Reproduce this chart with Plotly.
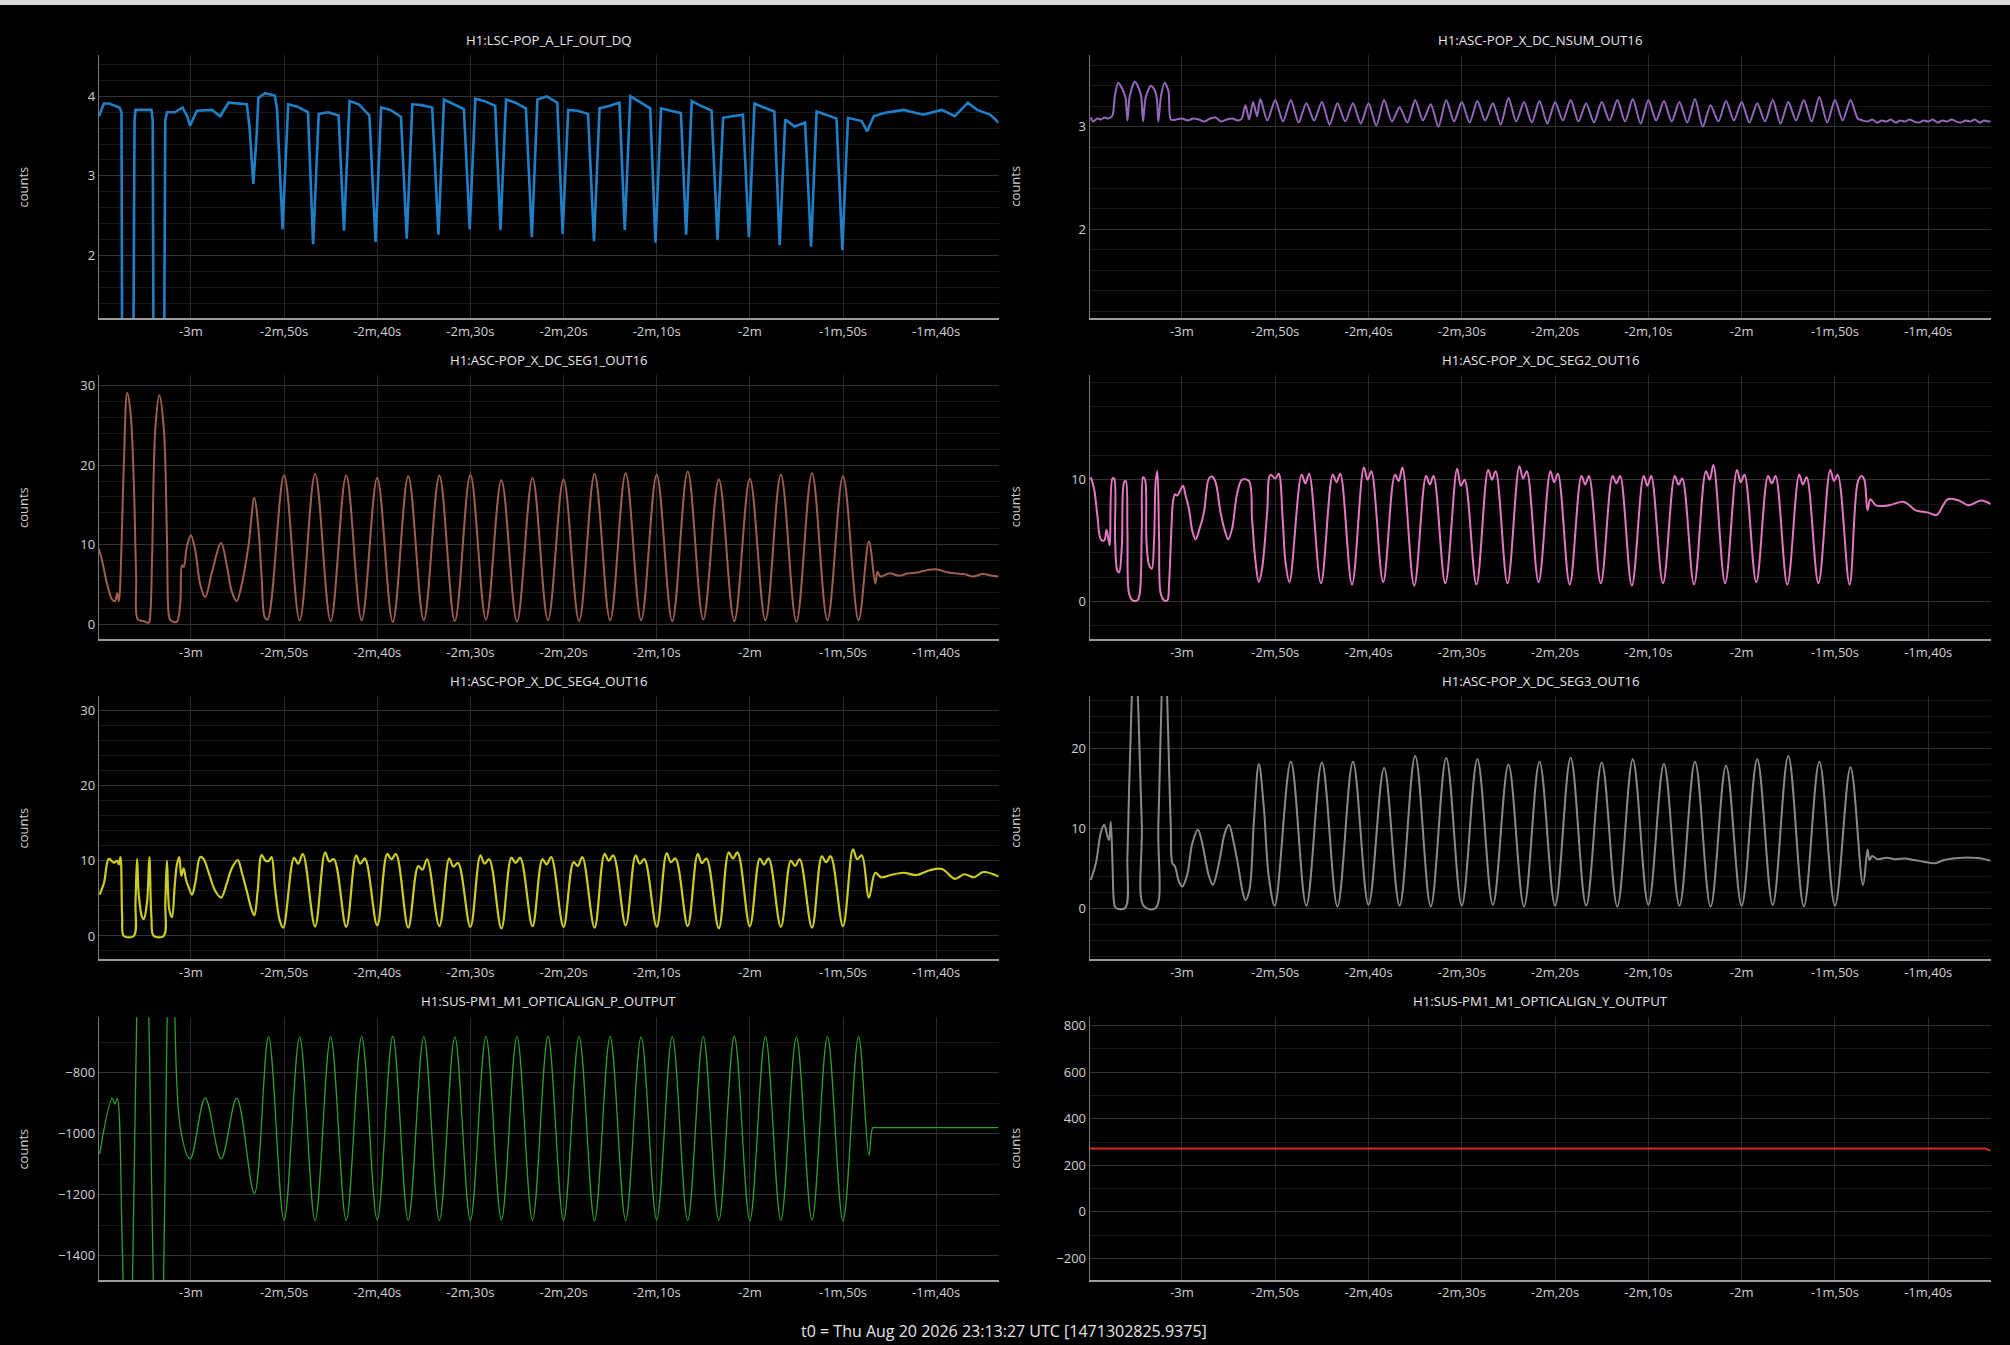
import plotly.graph_objects as go

# ---------------- shared time marks (seconds before t0) ----------------
t_pa = [-170.00, -166.67, -163.33, -160.00, -156.67, -153.33, -150.00, -146.67, -143.33, -140.00,
        -136.67, -133.33, -130.00, -126.67, -123.33, -120.00, -116.67, -113.33, -110.00]
t_pb = [-171.67, -168.33, -165.00, -161.67, -158.33, -155.00, -151.67, -148.33, -145.00, -141.67,
        -138.33, -135.00, -131.67, -128.33, -125.00, -121.67, -118.33, -115.00, -111.67, -108.33]

x_tickvals = [-180, -170, -160, -150, -140, -130, -120, -110, -100]
x_ticktext = ['-3m', '-2m,50s', '-2m,40s', '-2m,30s', '-2m,20s', '-2m,10s', '-2m', '-1m,50s', '-1m,40s']

titles = ['H1:LSC-POP_A_LF_OUT_DQ', 'H1:ASC-POP_X_DC_NSUM_OUT16',
          'H1:ASC-POP_X_DC_SEG1_OUT16', 'H1:ASC-POP_X_DC_SEG2_OUT16',
          'H1:ASC-POP_X_DC_SEG4_OUT16', 'H1:ASC-POP_X_DC_SEG3_OUT16',
          'H1:SUS-PM1_M1_OPTICALIGN_P_OUTPUT', 'H1:SUS-PM1_M1_OPTICALIGN_Y_OUTPUT']
footer = 't0 = Thu Aug 20 2026 23:13:27 UTC [1471302825.9375]'

# ---------------- H1:LSC-POP_A_LF_OUT_DQ ----------------
t_lsc = [-189.88, -189.34, -188.80, -188.00, -187.66, -187.45, -187.38, -186.20, -186.05, -185.95,
         -184.24, -184.10, -184.00, -182.90, -182.75, -182.57, -181.70, -180.90, -180.40, -180.10,
         -179.80, -179.36, -177.75, -176.86, -175.97, -174.00, -173.70, -173.30, -172.95, -172.76,
         -172.05, -171.00, -170.76,
         -170.16, -169.56, -168.56, -167.43,
         -166.88, -166.28, -165.28, -164.15,
         -163.57, -162.97, -161.97, -160.84,
         -160.18, -159.58, -158.58, -157.45,
         -156.83, -156.23, -155.23, -154.10,
         -153.43, -152.83, -151.83, -150.70,
         -150.07, -149.47, -148.47, -147.34,
         -146.77, -146.17, -145.17, -144.04,
         -143.40, -142.80, -141.80, -140.67,
         -140.10, -139.50, -138.50, -137.37,
         -136.73, -136.13, -135.13, -134.00,
         -133.43, -132.83, -131.83, -130.70,
         -130.13, -129.53, -128.53, -127.40,
         -126.84, -126.24, -125.24, -124.11,
         -123.47, -122.87, -121.87, -120.74,
         -120.10, -119.50, -118.50, -117.37,
         -116.80, -116.20, -115.20, -114.07,
         -113.43, -112.83, -111.83, -110.70,
         -110.07, -109.47, -108.00, -107.40, -106.70, -105.60, -103.50, -101.40, -99.40, -98.00,
         -96.60, -95.60, -94.20, -93.30]
v_lsc = [3.75, 3.91, 3.91, 3.88, 3.86, 3.80, 0.20, 0.20, 3.70, 3.83,
         3.83, 3.70, 0.20, 0.20, 3.70, 3.80, 3.80, 3.86, 3.75, 3.63,
         3.70, 3.82, 3.83, 3.75, 3.92, 3.90, 3.60, 2.90, 3.50, 3.98,
         4.04, 4.01, 3.85,
         2.33, 3.90, 3.87, 3.80,
         2.14, 3.78, 3.80, 3.76,
         2.31, 3.94, 3.90, 3.76,
         2.17, 3.86, 3.83, 3.74,
         2.21, 3.90, 3.89, 3.86,
         2.26, 3.96, 3.90, 3.84,
         2.33, 3.97, 3.94, 3.88,
         2.32, 3.96, 3.92, 3.85,
         2.23, 3.96, 4.00, 3.92,
         2.27, 3.83, 3.82, 3.78,
         2.18, 3.85, 3.88, 3.92,
         2.32, 4.00, 3.93, 3.85,
         2.16, 3.85, 3.82, 3.79,
         2.26, 3.94, 3.88, 3.82,
         2.19, 3.73, 3.75, 3.77,
         2.23, 3.91, 3.86, 3.81,
         2.13, 3.71, 3.62, 3.67,
         2.11, 3.81, 3.77, 3.72,
         2.07, 3.73, 3.69, 3.56, 3.75, 3.79, 3.83, 3.77, 3.83, 3.75,
         3.92, 3.83, 3.77, 3.67]

# ---------------- H1:ASC-POP_X_DC_NSUM_OUT16 ----------------
t_nsum_early = [-189.80, -189.50, -189.10, -188.70, -188.30, -187.90, -187.45, -187.20, -186.84, -186.40,
                -186.05, -185.85, -185.60, -185.06, -184.60, -184.35, -184.17, -183.90, -183.35, -182.95,
                -182.70, -182.53, -182.25, -181.85, -181.45, -181.20,
                -180.60, -180.00, -179.40, -178.80, -178.20, -177.60, -177.00, -176.40, -175.80, -175.20,
                -174.60, -174.00, -173.60,
                -173.19, -172.80, -172.37, -171.95, -171.60, -170.85]
v_nsum_early = [3.09, 3.05, 3.08, 3.07, 3.09, 3.08, 3.11, 3.30, 3.43, 3.37,
                3.28, 3.06, 3.30, 3.44, 3.37, 3.28, 3.05, 3.28, 3.40, 3.36,
                3.28, 3.05, 3.30, 3.43, 3.35, 3.07,
                3.07, 3.08, 3.06, 3.08, 3.07, 3.05, 3.08, 3.09, 3.05, 3.07,
                3.08, 3.06, 3.08,
                3.21, 3.07, 3.24, 3.10, 3.27, 3.06]
t_nsum_pk = [-170.00, -168.33, -166.67, -165.00, -163.33, -161.67, -160.00, -158.33, -156.67, -155.00,
             -153.33, -151.67, -150.00, -148.33, -146.67, -145.00, -143.33, -141.67, -140.00, -138.33,
             -136.67, -135.00, -133.33, -131.67, -130.00, -128.33, -126.67, -125.00, -123.33, -121.67,
             -120.00, -118.33, -116.67, -115.00, -113.33, -111.67, -110.00, -108.33]
v_nsum_pk = [3.26, 3.26, 3.23, 3.24, 3.23, 3.23, 3.23, 3.26, 3.19, 3.26,
             3.22, 3.26, 3.24, 3.25, 3.23, 3.28, 3.24, 3.25, 3.24, 3.26,
             3.23, 3.24, 3.26, 3.27, 3.26, 3.25, 3.24, 3.27, 3.21, 3.25,
             3.24, 3.23, 3.26, 3.24, 3.26, 3.29, 3.26, 3.26]
t_nsum_tr = [-169.17, -167.50, -165.83, -164.17, -162.50, -160.83, -159.17, -157.50, -155.83, -154.17,
             -152.50, -150.83, -149.17, -147.50, -145.83, -144.17, -142.50, -140.83, -139.17, -137.50,
             -135.83, -134.17, -132.50, -130.83, -129.17, -127.50, -125.83, -124.17, -122.50, -120.83,
             -119.17, -117.50, -115.83, -114.17, -112.50, -110.83, -109.17]
v_nsum_tr = [3.05, 3.04, 3.06, 3.02, 3.05, 3.03, 3.01, 3.05, 3.04, 3.06,
             3.00, 3.05, 3.04, 3.06, 3.02, 3.05, 3.04, 3.03, 3.06, 3.05,
             3.04, 3.06, 3.05, 3.03, 3.06, 3.05, 3.04, 3.00, 3.05, 3.06,
             3.04, 3.05, 3.03, 3.06, 3.05, 3.04, 3.06]
t_nsum_tail = [-107.55, -107.00, -106.50, -106.00, -105.50, -105.00, -104.50, -104.00, -103.50, -103.00,
               -102.50, -102.00, -101.50, -101.00, -100.50, -100.00, -99.50, -99.00, -98.50, -98.00,
               -97.50, -97.00, -96.50, -96.00, -95.50, -95.00, -94.50, -94.00, -93.50, -93.30]
v_nsum_tail = [3.08, 3.06, 3.05, 3.07, 3.04, 3.06, 3.05, 3.07, 3.04, 3.06,
               3.05, 3.07, 3.05, 3.04, 3.06, 3.05, 3.07, 3.04, 3.06, 3.05,
               3.07, 3.05, 3.04, 3.06, 3.05, 3.07, 3.04, 3.06, 3.05, 3.05]

# ---------------- H1:ASC-POP_X_DC_SEG1_OUT16 ----------------
t_seg1_early = [-189.88, -189.52, -188.98, -188.45, -188.16, -187.91, -187.74, -187.63, -187.49, -187.20,
                -186.84, -186.49, -186.13, -185.88, -185.70, -185.10, -184.53, -184.35, -184.17, -183.81,
                -183.39, -182.92, -182.57, -182.39, -182.21, -181.85, -181.50, -181.14, -180.96, -180.78,
                -180.43, -180.00, -179.54, -179.00, -178.47, -177.75, -176.76, -176.15, -175.61, -175.08,
                -174.55, -173.83, -173.19, -172.76, -172.41, -172.05, -171.76]
v_seg1_early = [9.5, 7.9, 5.0, 3.1, 2.9, 3.9, 2.9, 4.1, 8.3, 20.1,
                29.1, 26.7, 17.8, 6.0, 0.6, 0.4, 0.2, 1.5, 8.3, 24.8,
                28.8, 24.8, 10.7, 1.3, 0.5, 0.3, 0.3, 2.7, 7.4, 7.2,
                9.8, 11.2, 9.3, 5.0, 3.4, 6.5, 10.2, 7.4, 4.1, 2.9,
                5.0, 9.8, 15.9, 12.1, 6.0, 0.8, 0.6]
v_seg1_pk = [18.7, 18.9, 18.7, 18.4, 18.6, 18.7, 18.8, 18.1, 18.4, 18.2,
             18.9, 19.0, 18.8, 19.2, 18.2, 18.3, 18.8, 19.0, 18.6]
v_seg1_tr = [0.5, 0.4, 0.5, 0.3, 0.5, 0.4, 0.6, 0.3, 0.5, 0.4,
             0.5, 0.5, 0.4, 0.6, 0.4, 0.5, 0.3, 0.5, 0.5]
t_seg1_tail = [-107.22, -106.53, -106.30, -106.00, -105.00, -104.00, -103.00, -102.00, -101.00, -100.00,
               -99.00, -98.00, -97.00, -96.00, -95.00, -94.00, -93.30]
v_seg1_tail = [10.4, 5.1, 6.6, 6.0, 6.4, 6.1, 6.4, 6.5, 6.8, 6.9,
               6.6, 6.4, 6.3, 6.0, 6.3, 6.1, 6.0]

# ---------------- H1:ASC-POP_X_DC_SEG2_OUT16 ----------------
t_seg2_early = [-189.77, -189.41, -189.06, -188.70, -188.34, -188.09, -187.88, -187.74, -187.45, -187.27,
                -187.17, -186.92, -186.74, -186.45, -186.20, -186.02, -185.85, -185.67, -185.31, -184.78,
                -184.53, -184.31, -184.17, -183.96, -183.81, -183.53, -183.24, -182.99, -182.82, -182.64,
                -182.46, -182.28, -181.93, -181.57, -181.39, -181.11, -180.96, -180.75, -180.50, -180.14,
                -179.89, -179.61, -179.25, -178.89, -178.54, -178.18, -177.65, -177.11, -176.76, -176.40,
                -175.86, -175.40, -175.04, -174.62, -174.08, -173.55, -172.83, -172.48, -172.12, -171.76,
                -171.41, -170.87, -170.52, -169.98, -169.63, -169.20, -168.91, -168.48]
v_seg2_early = [10.2, 9.2, 7.0, 5.1, 5.0, 5.9, 5.1, 4.6, 10.1, 10.1,
                5.1, 2.5, 2.4, 4.5, 9.8, 9.9, 5.8, 0.65, 0.1, 0.1,
                0.65, 5.8, 10.2, 10.0, 5.1, 3.0, 2.7, 5.1, 9.8, 10.7,
                5.4, 0.65, 0.1, 0.1, 1.4, 6.4, 8.2, 8.8, 8.7, 9.2,
                9.5, 8.7, 7.6, 5.8, 5.1, 5.8, 7.3, 10.1, 10.25, 9.8,
                7.3, 5.8, 5.1, 6.0, 8.9, 10.0, 9.9, 6.7, 3.3, 1.6,
                2.7, 7.3, 10.4, 10.1, 10.5, 6.7, 3.3, 1.6]
t_seg2_h1 = [-167.17, -163.83, -160.50, -157.17, -153.83, -150.50, -147.17, -143.83, -140.50, -137.17,
             -133.83, -130.50, -127.17, -123.83, -120.50, -117.17, -113.83, -110.50]
v_seg2_h1 = [10.4, 10.4, 11.0, 10.4, 10.3, 10.9, 10.8, 11.1, 10.7, 10.3,
             10.3, 10.3, 10.3, 10.7, 10.8, 10.3, 10.4, 10.8]
t_seg2_mid = [-166.77, -163.43, -160.10, -156.77, -153.43, -150.10, -146.77, -143.43, -140.10, -136.77,
              -133.43, -130.10, -126.77, -123.43, -120.10, -116.77, -113.43, -110.10]
v_seg2_mid = [9.7, 9.8, 10.0, 9.9, 9.6, 9.5, 10.0, 10.1, 9.8, 9.6,
              9.7, 9.5, 9.6, 10.0, 9.8, 9.7, 9.6, 9.9]
t_seg2_h2 = [-166.37, -163.03, -159.70, -156.37, -153.03, -149.70, -146.37, -143.03, -139.70, -136.37,
             -133.03, -129.70, -126.37, -123.03, -119.70, -116.37, -113.03, -109.70]
v_seg2_h2 = [10.5, 10.5, 10.7, 11.0, 10.3, 10.0, 10.7, 10.7, 10.5, 10.3,
             10.3, 10.3, 10.1, 11.2, 10.4, 10.3, 10.2, 10.4]
t_seg2_tr = [-165.10, -161.77, -158.43, -155.10, -151.77, -148.43, -145.10, -141.77, -138.43, -135.10,
             -131.77, -128.43, -125.10, -121.77, -118.43, -115.10, -111.77, -108.43]
v_seg2_tr = [1.5, 1.4, 1.6, 1.3, 1.5, 1.4, 1.5, 1.6, 1.4, 1.5,
             1.3, 1.5, 1.4, 1.5, 1.6, 1.4, 1.5, 1.4]
t_seg2_tail = [-107.55, -107.15, -106.85, -106.50, -106.20, -105.60, -104.20, -102.70, -102.00, -101.40,
               -100.00, -99.10, -98.40, -97.90, -96.70, -95.70, -94.30, -93.30]
v_seg2_tail = [9.8, 10.3, 10.0, 7.5, 8.4, 7.9, 7.9, 8.2, 7.9, 7.5,
               7.3, 7.1, 7.9, 8.4, 8.3, 7.9, 8.3, 8.0]

# ---------------- H1:ASC-POP_X_DC_SEG4_OUT16 ----------------
t_seg4_early = [-189.80, -189.34, -188.81, -188.27, -187.91, -187.74, -187.56, -187.38, -187.20, -186.13,
                -185.95, -185.78, -185.60, -185.24, -185.06, -184.71, -184.46, -184.24, -183.99, -182.92,
                -182.75, -182.57, -182.32, -182.03, -181.75, -181.50, -181.25, -181.03, -180.78, -180.53,
                -180.25, -179.89, -179.54, -179.00, -178.65, -178.11, -177.40, -176.76, -176.15, -175.61,
                -174.97, -174.55, -174.01, -173.48, -173.19, -172.83, -172.41, -171.98, -171.62, -171.34,
                -170.98, -170.45, -170.09]
v_seg4_early = [5.5, 7.0, 10.25, 9.75, 10.0, 9.5, 10.5, 2.5, 0.0, 0.0,
                4.5, 10.25, 5.5, 2.5, 2.25, 4.5, 10.5, 2.5, 0.0, 0.0,
                4.5, 10.0, 3.5, 2.5, 6.5, 9.5, 10.5, 8.0, 9.0, 7.5,
                6.5, 5.5, 7.0, 10.5, 10.25, 8.5, 6.0, 5.1, 7.0, 9.0,
                10.1, 8.5, 6.0, 3.5, 2.75, 6.0, 10.75, 10.0, 10.0, 10.5,
                6.5, 2.0, 1.1]
t_seg4_h1 = [-168.93, -165.60, -162.27, -158.93, -155.60, -152.27, -148.93, -145.60, -142.27, -138.93,
             -135.60, -132.27, -128.93, -125.60, -122.27, -118.93, -115.60, -112.27, -108.93]
v_seg4_h1 = [10.4, 11.1, 10.7, 10.9, 9.3, 10.3, 10.7, 10.4, 10.2, 9.8,
             10.9, 10.7, 11.0, 10.9, 11.1, 10.3, 10.0, 10.6, 11.5]
t_seg4_mid = [-168.48, -165.15, -161.82, -158.48, -155.15, -151.82, -148.48, -145.15, -141.82, -138.48,
              -135.15, -131.82, -128.48, -125.15, -121.82, -118.48, -115.15, -111.82, -108.48]
v_seg4_mid = [9.6, 9.9, 9.6, 10.2, 8.8, 9.2, 9.6, 9.7, 9.5, 9.3,
              10.0, 9.6, 9.8, 9.7, 10.3, 9.5, 9.3, 9.8, 10.2]
t_seg4_h2 = [-167.98, -164.65, -161.32, -157.98, -154.65, -151.32, -147.98, -144.65, -141.32, -137.98,
             -134.65, -131.32, -127.98, -124.65, -121.32, -117.98, -114.65, -111.32, -107.98]
v_seg4_h2 = [10.9, 10.2, 10.3, 10.9, 10.2, 9.7, 10.2, 10.4, 10.5, 10.5,
             10.7, 10.2, 10.3, 10.3, 11.1, 10.3, 10.2, 10.6, 10.7]
v_seg4_tr = [1.25, 1.2, 1.4, 1.1, 1.3, 1.2, 1.0, 1.3, 1.2, 1.1,
             1.4, 1.2, 1.3, 1.0, 1.3, 1.2, 1.1, 1.3]
t_seg4_tail = [-107.22, -106.53, -105.90, -104.88, -103.50, -102.13, -100.76, -99.38, -98.00, -96.98,
               -95.95, -94.92, -93.30]
v_seg4_tail = [5.1, 8.4, 7.8, 8.1, 8.4, 8.1, 8.7, 8.9, 7.6, 8.2,
               7.8, 8.5, 7.9]

# ---------------- H1:ASC-POP_X_DC_SEG3_OUT16 ----------------
t_seg3_early = [-189.77, -189.23, -188.70, -188.34, -187.99, -187.81, -187.63, -187.45, -187.27, -187.09,
                -186.10, -185.85, -185.67, -185.06, -184.31, -184.06, -182.82, -182.53, -181.89, -181.21,
                -181.03, -180.75, -180.32, -179.96, -179.43, -178.89, -178.29, -177.83, -177.11, -176.68,
                -176.04, -175.40, -174.97, -174.44, -173.90, -173.55, -173.19, -172.76, -172.30, -171.76,
                -171.23, -170.70, -170.05]
v_seg3_early = [3.5, 5.6, 9.4, 10.4, 9.0, 8.5, 10.8, 5.6, 0.6, 0.0,
                0.0, 6.5, 14.8, 33.0, 10.6, 0.2, 0.0, 10.6, 33.5, 10.6,
                5.6, 5.2, 3.3, 2.7, 4.2, 8.1, 9.8, 8.1, 4.0, 2.9,
                5.6, 9.4, 10.4, 8.1, 4.8, 2.3, 1.0, 2.3, 10.6, 18.0,
                12.7, 4.0, 0.3]
v_seg3_pk = [18.3, 18.2, 18.3, 17.5, 19.0, 18.75, 18.6, 17.9, 18.3, 18.8,
             18.2, 18.6, 18.0, 18.3, 17.8, 18.6, 19.0, 18.3, 17.6]
v_seg3_tr = [0.3, 0.2, 0.4, 0.3, 0.2, 0.3, 0.4, 0.2, 0.3, 0.3,
             0.2, 0.4, 0.3, 0.2, 0.3, 0.4, 0.2, 0.3]
t_seg3_tail = [-106.99, -106.50, -106.30, -106.00, -105.40, -104.50, -103.50, -102.50, -101.50, -100.50,
               -99.30, -98.30, -97.30, -96.30, -95.30, -94.30, -93.30]
v_seg3_tail = [2.9, 7.3, 6.0, 6.5, 6.1, 6.3, 6.1, 6.2, 6.0, 5.8,
               5.6, 6.0, 6.2, 6.3, 6.3, 6.2, 5.9]

# ---------------- H1:SUS-PM1_M1_OPTICALIGN_P_OUTPUT ----------------
t_pout_early = [-189.80, -188.45, -188.16, -187.91, -187.38, -186.77, -185.17, -183.46, -182.03, -181.14,
                -180.07, -178.47, -176.76, -175.08, -173.19]
v_pout_early = [-1066, -883, -903, -885, -1350, -2100, 100, -2100, 100, -979,
                -1082, -882, -1082, -883, -1196]
v_pout_pk = [-681, -682, -681, -681, -680, -681, -682, -681, -681, -680,
             -681, -681, -682, -681, -681, -680, -681, -682, -681, -681]
v_pout_tr = [-1284, -1285, -1284, -1283, -1284, -1285, -1284, -1283, -1284, -1284,
             -1285, -1284, -1283, -1284, -1284, -1285, -1284, -1283, -1286]
t_pout_tail = [-107.22, -106.80, -106.50, -93.30]
v_pout_tail = [-1071, -980, -980, -980]

# ---------------- H1:SUS-PM1_M1_OPTICALIGN_Y_OUTPUT ----------------
t_yout = [-189.90, -93.90, -93.30]
v_yout = [272, 272, 263]


def merge(*pairs):
    pts = []
    for ts, vs in pairs:
        assert len(ts) == len(vs), (len(ts), len(vs))
        pts.extend(zip(ts, vs))
    pts.sort(key=lambda p: p[0])
    return [p[0] for p in pts], [p[1] for p in pts]


# (data, colour, width, shape, smoothing)
series = [
    (merge((t_lsc, v_lsc)), '#1f80c8', 2.6, 'linear', 0),
    (merge((t_nsum_early, v_nsum_early), (t_nsum_pk, v_nsum_pk), (t_nsum_tr, v_nsum_tr),
           (t_nsum_tail, v_nsum_tail)), '#9467bd', 2.0, 'spline', 0.7),
    (merge((t_seg1_early, v_seg1_early), (t_pa, v_seg1_pk), (t_pb[1:], v_seg1_tr),
           (t_seg1_tail, v_seg1_tail)), '#a05e4f', 2.0, 'spline', 1.0),
    (merge((t_seg2_early, v_seg2_early), (t_seg2_h1, v_seg2_h1), (t_seg2_mid, v_seg2_mid),
           (t_seg2_h2, v_seg2_h2), (t_seg2_tr, v_seg2_tr), (t_seg2_tail, v_seg2_tail)),
     '#e377c2', 2.0, 'spline', 1.0),
    (merge((t_seg4_early, v_seg4_early), (t_seg4_h1, v_seg4_h1), (t_seg4_mid, v_seg4_mid),
           (t_seg4_h2, v_seg4_h2), (t_pa[1:], v_seg4_tr), (t_seg4_tail, v_seg4_tail)),
     '#cccc22', 2.2, 'spline', 1.0),
    (merge((t_seg3_early, v_seg3_early), (t_pb[1:], v_seg3_pk), (t_pa[1:], v_seg3_tr),
           (t_seg3_tail, v_seg3_tail)), '#8a8a8a', 2.0, 'spline', 1.0),
    (merge((t_pout_early, v_pout_early), (t_pb, v_pout_pk), (t_pa, v_pout_tr),
           (t_pout_tail, v_pout_tail)), '#2ca02c', 1.3, 'spline', 1.0),
    (merge((t_yout, v_yout)), '#d62728', 2.0, 'linear', 0),
]

y_ranges = [[1.21, 4.52], [1.13, 3.70], [-1.9, 31.35], [-3.1, 18.6],
            [-3.1, 31.9], [-6.4, 26.5], [-1480, -618], [-293, 836]]
y_dticks = [1, 1, 10, 10, 10, 10, 200, 200]
y_minor = [0.2, 0.2, 2, 2, 2, 2, 100, 100]

x_domains = [[0.0491, 0.4968], [0.5421, 0.9904]]
y_domains = [[0.7634, 0.9591], [0.5247, 0.7212], [0.2868, 0.4825], [0.0483, 0.2436]]
title_y = [0.9700, 0.7320, 0.4934, 0.2555]

fig = go.Figure()
layout = dict(
    width=2010, height=1345,
    margin=dict(l=0, r=0, t=0, b=0),
    paper_bgcolor='#000000', plot_bgcolor='#000000',
    showlegend=False,
    font=dict(family='Open Sans, sans-serif', color='#cfcfcf', size=13),
)
annotations = []
for i, ((tx, vy), color, width, shape, smooth) in enumerate(series):
    n = i + 1
    row, col = i // 2, i % 2
    line = dict(color=color, width=width, shape=shape)
    if shape == 'spline':
        line['smoothing'] = smooth
    fig.add_trace(go.Scatter(x=tx, y=vy, mode='lines', line=line,
                             xaxis='x%d' % n, yaxis='y%d' % n, hoverinfo='skip'))
    layout['xaxis%d' % n] = dict(
        domain=x_domains[col], anchor='y%d' % n, range=[-189.9, -93.3],
        tickmode='array', tickvals=x_tickvals, ticktext=x_ticktext,
        showgrid=True, gridcolor='#2a2a2a', gridwidth=1, zeroline=False,
        showline=True, linecolor='#9a9a9a', linewidth=1.5, ticks='',
        tickfont=dict(size=13, color='#d2d2d2'),
    )
    layout['yaxis%d' % n] = dict(
        domain=y_domains[row], anchor='x%d' % n, range=y_ranges[i],
        tick0=0, dtick=y_dticks[i],
        showgrid=True, gridcolor='#333333', gridwidth=1, zeroline=False,
        showline=True, linecolor='#777777', linewidth=1, ticks='',
        minor=dict(dtick=y_minor[i], tick0=0, showgrid=True, gridcolor='#171717', gridwidth=1),
        tickfont=dict(size=13, color='#d2d2d2'),
    )
    xd = x_domains[col]
    yd = y_domains[row]
    annotations.append(dict(text=titles[i], xref='paper', yref='paper',
                            x=(xd[0] + xd[1]) / 2, y=title_y[row], xanchor='center', yanchor='middle',
                            showarrow=False, font=dict(size=13.2, color='#e8e8e8')))
    annotations.append(dict(text='counts', xref='paper', yref='paper',
                            x=[0.0114, 0.505][col], y=(yd[0] + yd[1]) / 2, textangle=-90,
                            xanchor='center', yanchor='middle', showarrow=False,
                            font=dict(size=13, color='#cfcfcf')))
annotations.append(dict(text=footer, xref='paper', yref='paper', x=0.4994, y=0.0105,
                        xanchor='center', yanchor='middle', showarrow=False,
                        font=dict(size=16, color='#e6e6e6')))
layout['annotations'] = annotations
layout['shapes'] = [dict(type='rect', xref='paper', yref='paper', x0=0, x1=1, y0=1 - 5 / 1345, y1=1,
                         fillcolor='#d9d9d9', line=dict(width=0), layer='above')]
fig.update_layout(**layout)

fig.write_html("out.html", config={'displayModeBar': False},
               post_script="document.body.style.margin='0';document.body.style.overflow='hidden';")
